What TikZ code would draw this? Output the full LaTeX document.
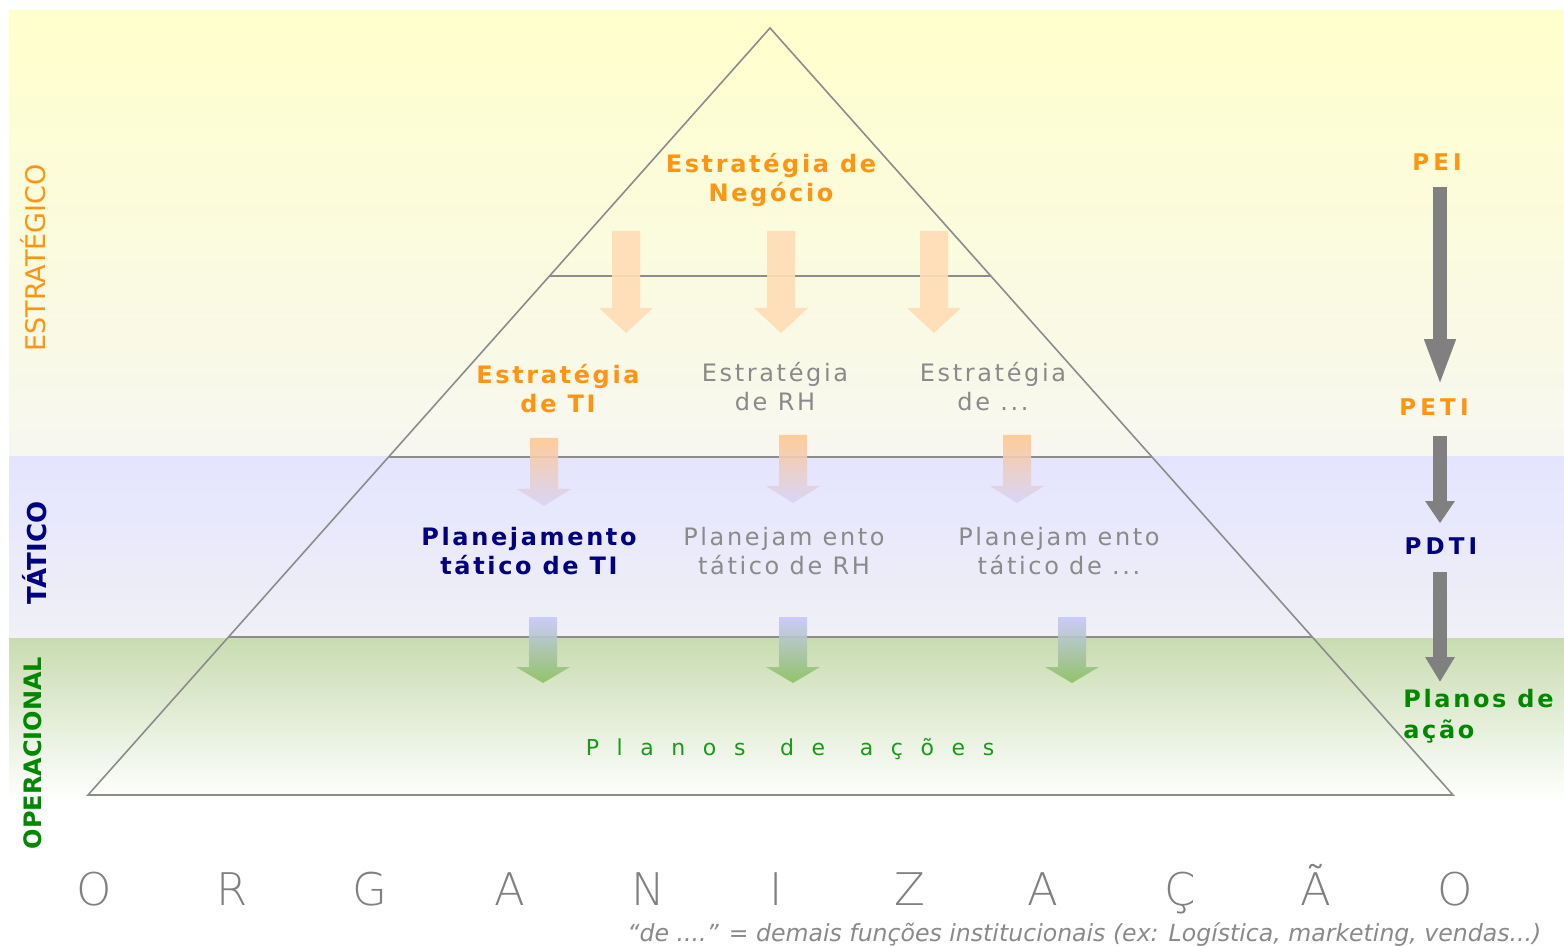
\documentclass[tikz,border=0pt]{standalone}
\usepackage{fontspec}
\setmainfont{DejaVu Sans}
\newfontfamily\sts{DejaVu Sans}[LetterSpace=11]
\newfontfamily\rls{DejaVu Sans}[LetterSpace=18]
\newfontfamily\widefont{DejaVu Sans}[LetterSpace=80]
\IfFontExistsTF{DejaVu Sans ExtraLight}{\newfontfamily\orgfont{DejaVu Sans ExtraLight}}{%
  \IfFontExistsTF{Fira Sans Light}{\newfontfamily\orgfont{Fira Sans Light}}{\newfontfamily\orgfont{DejaVu Sans}}}
\usetikzlibrary{arrows.meta,calc}
\definecolor{torange}{HTML}{FF9410}
\definecolor{tnavy}{HTML}{000080}
\definecolor{tgrey}{HTML}{8A8A8A}
\definecolor{tgreen}{HTML}{1A9A1A}
\definecolor{dgreen}{HTML}{008800}
\definecolor{agrey}{HTML}{808080}
\definecolor{bgYa}{HTML}{FFFFCC}
\definecolor{bgYb}{HTML}{F7F7F0}
\definecolor{bgBa}{HTML}{E4E4FF}
\definecolor{bgBb}{HTML}{F0F0F6}
\definecolor{bgGa}{HTML}{C8DCB0}
\definecolor{peach}{HTML}{FFDDB5}
\definecolor{peachb}{HTML}{FFC890}
\definecolor{lav}{HTML}{D8D4F8}
\definecolor{lavb}{HTML}{C8C8FA}
\definecolor{leaf}{HTML}{8CC060}
\definecolor{pline}{HTML}{8C8C8C}
\newcommand\pastelarrow[5]{%
  \shade[#5] (#1-14,#2) -- (#1+14,#2) -- (#1+14,#3) -- (#1+27,#3) -- (#1,#4) -- (#1-27,#3) -- (#1-14,#3) -- cycle;}
\tikzset{
  txt/.style={inner sep=0pt, align=center, font=\sts\fontsize{12}{14.5}\selectfont},
  bold/.style={font=\sts\bfseries\fontsize{12}{14.5}\selectfont},
  rlbl/.style={inner sep=0pt, font=\rls\bfseries\fontsize{11.5}{15.5}\selectfont},
  vlbl/.style={inner sep=0pt, rotate=90},
  orgl/.style={inner sep=0pt, anchor=base, text=agrey, font=\orgfont\fontsize{22.5}{26}\selectfont},
  pyr/.style={draw=pline, line width=0.8pt},
  garrow/.style={draw=agrey, line width=7pt},
}
\begin{document}
\begin{tikzpicture}[x=0.5pt,y=-0.5pt]
\useasboundingbox (0,0) rectangle (1564,946);
\fill[white] (0,0) rectangle (1564,946);
% bands
\shade[top color=bgYa, bottom color=bgYb] (9,11) rectangle (1564,457);
\shade[top color=bgBa, bottom color=bgBb] (9,457) rectangle (1564,638);
\shade[top color=bgGa, bottom color=white] (9,638) rectangle (1564,800);
% pyramid
\coordinate (apex) at (770,28);
\coordinate (bl) at (88,795);
\coordinate (br) at (1453,795);
\draw[pyr] (apex) -- (bl) -- (br) -- cycle;
\draw[pyr] ($(apex)!0.3233!(bl)$) -- ($(apex)!0.3233!(br)$);
\draw[pyr] ($(apex)!0.5593!(bl)$) -- ($(apex)!0.5593!(br)$);
\draw[pyr] ($(apex)!0.7940!(bl)$) -- ($(apex)!0.7940!(br)$);
% pastel arrows
\pastelarrow{626}{231}{308}{333}{top color=peach,bottom color=peach,opacity=0.9}
\pastelarrow{781}{231}{308}{333}{top color=peach,bottom color=peach,opacity=0.9}
\pastelarrow{934}{231}{308}{333}{top color=peach,bottom color=peach,opacity=0.9}
\pastelarrow{544}{438}{489}{506}{top color=peachb,bottom color=lav,opacity=0.9}
\pastelarrow{793}{435}{486}{503}{top color=peachb,bottom color=lav,opacity=0.9}
\pastelarrow{1017}{435}{486}{503}{top color=peachb,bottom color=lav,opacity=0.9}
\pastelarrow{543}{617}{667}{683}{top color=lavb,bottom color=leaf,opacity=0.9}
\pastelarrow{793}{617}{667}{683}{top color=lavb,bottom color=leaf,opacity=0.9}
\pastelarrow{1072}{617}{667}{683}{top color=lavb,bottom color=leaf,opacity=0.9}
% pyramid texts
\node[txt,bold,text=torange] (neg) at (771,180) {Estratégia de\\Negócio};
\node[txt,bold,text=torange] (eti) at (558,389) {Estratégia\\de TI};
\node[txt,text=tgrey] (erh) at (775,387) {Estratégia\\de RH};
\node[txt,text=tgrey] (eout) at (993,387) {Estratégia\\de ...};
\node[txt,bold,text=tnavy] (pti) at (529,551) {Planejamento\\tático de TI};
\node[txt,text=tgrey] (prh) at (784,551) {Planejam ento\\tático de RH};
\node[txt,text=tgrey] (pout) at (1059,551) {Planejam ento\\tático de ...};
\node[inner sep=0pt, text=tgreen, font=\widefont\fontsize{11}{13}\selectfont] (pacoes) at (790,749) {Planos\hspace{5pt} de\hspace{5pt} ações};
% left vertical labels
\node[vlbl, text=torange, font=\fontsize{13.5}{15}\selectfont] (estr) at (33,258) {ESTRATÉGICO};
\node[vlbl, text=tnavy, font=\bfseries\fontsize{13}{14}\selectfont] (tat) at (35,553) {TÁTICO};
\node[vlbl, text=dgreen, font=\bfseries\fontsize{12}{14}\selectfont] (oper) at (33,753) {OPERACIONAL};
% right labels and arrows
\coordinate (ax) at (1440,0);
\node[rlbl, text=torange] (pei) at (1437,162) {PEI};
\node[rlbl, text=torange] (peti) at (1434,407) {PETI};
\node[rlbl, text=tnavy] (pdti) at (1441,546) {PDTI};
\node[inner sep=0pt, text=dgreen, anchor=north west, align=left, font=\sts\bfseries\fontsize{12}{15.5}\selectfont] (planos) at (1403,689) {Planos de\\ação};
\draw[garrow, -{Triangle[width=14pt,length=23.5pt]}, shorten <=8pt, shorten >=6pt] (pei.south -| ax) -- (peti.north -| ax);
\draw[garrow, -{Triangle[width=14pt,length=11pt]}, shorten <=10pt, shorten >=7pt] (peti.south -| ax) -- (pdti.north -| ax);
\draw[garrow, -{Triangle[width=14pt,length=12.5pt]}, shorten <=8.5pt, shorten >=3.5pt] (pdti.south -| ax) -- (planos.north -| ax);
% ORGANIZACAO
\node[orgl] (o1) at (94,905) {O};
\node[orgl] (o2) at (232,905) {R};
\node[orgl] (o3) at (370,905) {G};
\node[orgl] (o4) at (510,905) {A};
\node[orgl] (o5) at (648,905) {N};
\node[orgl] (o6) at (776,905) {I};
\node[orgl] (o7) at (910,905) {Z};
\node[orgl] (o8) at (1043,905) {A};
\node[orgl] (o9) at (1180,905) {Ç};
\node[orgl] (o10) at (1316,905) {Ã};
\node[orgl] (o11) at (1455,905) {O};
% footnote
\node[inner sep=0pt, anchor=west, text=tgrey, font=\itshape\fontsize{11.8}{13}\selectfont] (note) at (627,935) {“de ....” = demais funções institucionais (ex: Logística, marketing, vendas...)};
\end{tikzpicture}
\end{document}
